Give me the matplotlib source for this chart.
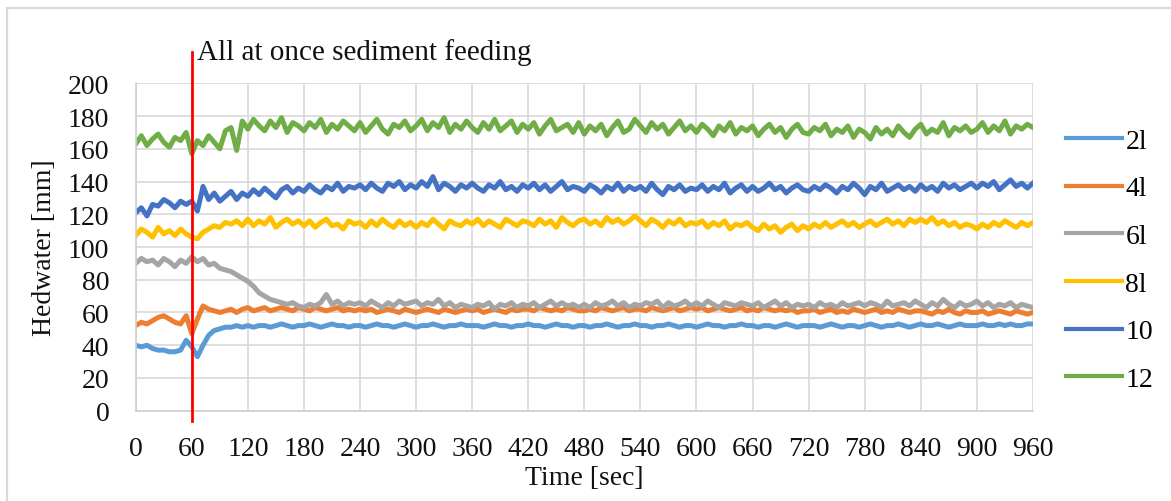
import numpy as np
import matplotlib
matplotlib.use("Agg")
import matplotlib.pyplot as plt
from matplotlib.patches import Rectangle

# Time axis: samples every 6 seconds from 0 to 960 s
time_sec = np.arange(0, 961, 6)

s_2l = [
    40, 39, 40, 38, 37, 37, 36, 36, 37, 43,
    39, 33, 40, 46, 49, 50, 51, 51, 52, 51,
    52, 51, 52, 52, 51, 52, 53, 52, 51, 52,
    52, 53, 52, 51, 52, 53, 52, 52, 51, 52,
    52, 51, 52, 53, 52, 52, 51, 52, 53, 52,
    51, 52, 52, 53, 52, 51, 52, 52, 53, 52,
    52, 52, 51, 52, 53, 52, 52, 51, 52, 52,
    53, 52, 52, 51, 52, 53, 52, 52, 51, 52,
    52, 51, 52, 52, 53, 52, 51, 52, 52, 53,
    52, 52, 51, 52, 52, 53, 52, 51, 52, 52,
    51, 52, 53, 52, 52, 51, 52, 52, 53, 52,
    52, 51, 52, 52, 51, 52, 53, 52, 51, 52,
    52, 52, 51, 52, 53, 52, 51, 52, 52, 51,
    52, 53, 52, 51, 52, 52, 53, 52, 51, 52,
    53, 52, 52, 53, 52, 51, 52, 53, 52, 52,
    52, 53, 52, 52, 53, 52, 53, 52, 52, 53,
    53,
]

s_4l = [
    52, 54, 53, 55, 57, 58, 56, 54, 53, 58,
    47, 56, 64, 62, 61, 60, 61, 62, 60, 62,
    63, 61, 62, 63, 61, 62, 63, 62, 61, 63,
    62, 61, 63, 62, 61, 62, 63, 61, 62, 61,
    62, 61, 62, 60, 61, 62, 61, 60, 62, 61,
    60, 61, 62, 61, 60, 62, 61, 60, 61, 62,
    61, 62, 60, 61, 62, 61, 60, 62, 61, 62,
    62, 61, 63, 62, 61, 62, 61, 63, 62, 61,
    61, 62, 61, 63, 62, 61, 62, 63, 61, 62,
    62, 61, 63, 62, 61, 62, 63, 61, 62, 63,
    62, 63, 61, 62, 63, 62, 61, 62, 63, 61,
    62, 61, 63, 62, 61, 62, 61, 62, 60, 61,
    61, 62, 60, 61, 62, 60, 61, 60, 62, 61,
    60, 61, 62, 60, 61, 60, 62, 61, 60, 61,
    61, 60, 59, 61, 60, 62, 60, 59, 61, 60,
    60, 61, 59, 60, 61, 60, 59, 61, 60, 59,
    60,
]

s_6l = [
    90, 93, 91, 92, 89, 93, 91, 88, 92, 90,
    94, 91, 93, 89, 90, 87, 86, 85, 83, 81,
    79, 76, 72, 70, 68, 67, 66, 65, 66, 64,
    63, 65, 64, 66, 71, 65, 67, 64, 66, 65,
    66, 64, 67, 65, 63, 66, 64, 67, 65, 66,
    67, 64, 66, 65, 68, 64, 66, 63, 65, 64,
    63, 65, 64, 66, 62, 65, 64, 66, 63, 65,
    64, 66, 63, 65, 67, 64, 66, 64, 65, 63,
    65, 63, 66, 64, 65, 67, 64, 66, 63, 65,
    64, 66, 65, 67, 63, 66, 64, 65, 67, 64,
    66, 64, 67, 65, 63, 66, 65, 64, 66, 65,
    64, 66, 63, 65, 67, 64, 66, 63, 65, 64,
    65, 63, 66, 64, 65, 63, 66, 64, 65, 66,
    64, 66, 65, 63, 67, 64, 65, 66, 64, 67,
    65, 63, 66, 64, 68, 65, 63, 66, 64, 65,
    67, 64, 66, 63, 65, 64, 66, 63, 65, 64,
    63,
]

s_8l = [
    107, 111, 109, 106, 112, 108, 110, 107, 111, 108,
    106, 105, 109, 111, 113, 112, 115, 114, 116, 113,
    117, 113, 116, 114, 118, 112, 115, 117, 114, 116,
    113, 116, 112, 115, 117, 113, 114, 111, 116, 114,
    115, 112, 116, 113, 117, 114, 112, 116, 113, 115,
    112, 115, 113, 117, 114, 111, 116, 114, 113, 116,
    114, 117, 113, 116, 114, 112, 117, 115, 113, 116,
    115, 113, 117, 114, 116, 112, 118, 115, 113, 116,
    117, 114, 116, 113, 118, 115, 117, 114, 116, 119,
    116, 113, 117, 115, 112, 116, 114, 117, 113, 115,
    114, 116, 112, 115, 113, 116, 111, 114, 113, 115,
    112, 110, 114, 111, 113, 109, 112, 114, 110, 113,
    111, 114, 112, 115, 112, 114, 116, 113, 115, 112,
    114, 116, 113, 115, 117, 114, 116, 113, 117, 115,
    117, 115, 118, 114, 116, 113, 115, 112, 114, 113,
    111, 114, 112, 115, 113, 116, 114, 112, 115, 113,
    115,
]

s_10 = [
    121, 124, 119, 126, 125, 129, 127, 124, 128, 126,
    128, 122, 137, 129, 133, 128, 131, 134, 129, 133,
    131, 135, 132, 136, 133, 130, 135, 137, 133, 136,
    134, 138, 135, 133, 137, 135, 139, 134, 137, 136,
    138, 135, 139, 136, 134, 139, 137, 140, 135, 138,
    136, 140, 137, 143, 135, 139, 137, 134, 138, 136,
    139, 136, 134, 138, 136, 140, 135, 137, 134, 138,
    136, 139, 135, 138, 134, 137, 140, 135, 137, 136,
    134, 138, 136, 133, 137, 135, 139, 134, 137, 135,
    137, 134, 139, 135, 132, 137, 135, 138, 134, 136,
    135, 138, 134, 137, 135, 139, 133, 136, 138, 134,
    137, 134, 136, 139, 135, 137, 133, 136, 138, 135,
    134, 137, 135, 138, 136, 133, 137, 135, 139, 136,
    132, 137, 135, 139, 134, 136, 138, 135, 137, 134,
    138, 135, 137, 134, 139, 136, 138, 135, 137, 139,
    136, 139, 137, 140, 135, 138, 141, 137, 139, 136,
    139,
]

s_12 = [
    163, 168, 162, 166, 169, 164, 161, 167, 165, 170,
    157, 165, 162, 168, 164, 160, 171, 173, 159, 177,
    172, 178, 174, 171, 177, 173, 179, 170, 176, 174,
    171, 176, 173, 178, 170, 175, 172, 177, 174, 171,
    176, 170, 174, 178, 172, 169, 175, 173, 177, 171,
    174, 178, 171, 176, 173, 179, 170, 175, 172, 177,
    173, 170, 176, 172, 178, 171, 174, 177, 170, 175,
    172, 176, 169, 174, 178, 171, 173, 175, 170, 176,
    169, 174, 171, 175, 168, 173, 177, 170, 172, 178,
    174, 170, 176, 172, 175, 169, 173, 177, 171, 174,
    170, 175, 172, 168, 174, 171, 176, 169, 173, 171,
    174, 168, 172, 175, 170, 173, 167, 172, 175, 170,
    169, 173, 171, 175, 168, 172, 170, 174, 167, 172,
    170, 166, 173, 169, 172, 168, 174, 170, 167, 172,
    175, 169, 172, 170, 176, 168, 173, 171, 174, 170,
    172, 176, 170, 174, 171, 177, 169, 174, 172, 175,
    173,
]

series_labels = ["2l", "4l", "6l", "8l", "10", "12"]
series_values = [s_2l, s_4l, s_6l, s_8l, s_10, s_12]
series_colors = ["#5B9BD5", "#ED7D31", "#A5A5A5", "#FFC000", "#4472C4", "#70AD47"]

x_ticks = list(range(0, 961, 60))
y_ticks = list(range(0, 201, 20))
event_time = 60
event_label = "All at once sediment feeding"

plt.rcParams["font.family"] = ["Liberation Serif", "DejaVu Serif"]

fig = plt.figure(figsize=(11.71, 5.02), dpi=100)
ax = fig.add_axes([0.1159, 0.1799, 0.7662, 0.6521])

for lab, vals, col in zip(series_labels, series_values, series_colors):
    ax.plot(time_sec, vals, color=col, lw=3.6, label=lab, solid_joinstyle="round")

ax.set_xlim(0, 960)
ax.set_ylim(0, 200)
ax.set_xticks(x_ticks)
ax.set_yticks(y_ticks)
ax.tick_params(axis="both", length=0, labelsize=20, colors="#111111")
ax.tick_params(axis="x", pad=18)
ax.tick_params(axis="y", pad=19)
ax.grid(True, color="#d9d9d9", lw=1.2)
ax.set_axisbelow(True)
for sp in ["top", "right"]:
    ax.spines[sp].set_visible(False)
for sp in ["left", "bottom"]:
    ax.spines[sp].set_color("#d0d0d0")
    ax.spines[sp].set_linewidth(1.2)

# Event marker line (extends outside the plot area)
trans = ax.get_xaxis_transform()
ax.plot([event_time, event_time], [-0.031, 1.097], transform=trans,
        color="#FF0000", lw=2.0, clip_on=False, zorder=5)
ax.text(event_time + 5.6, 1.097, event_label, transform=trans,
        fontsize=21, ha="left", va="center", color="#111111")

ax.set_xlabel("Time [sec]", fontsize=20, labelpad=3, color="#111111")
ax.set_ylabel("Hedwater [mm]", fontsize=20, labelpad=8, color="#111111")

leg = ax.legend(loc="center left", bbox_to_anchor=(1.025, 0.46), frameon=False,
                fontsize=20, handlelength=2.0, handletextpad=0.12,
                labelspacing=0.8, borderaxespad=0)
for h in leg.get_lines():
    h.set_linewidth(3)

# Outer chart frame
fig.patches.append(Rectangle((7 / 1171, -0.05), 1.2, (502 - 9) / 502 + 0.05,
                             transform=fig.transFigure, fill=False,
                             edgecolor="#d9d9d9", lw=1.6))

fig.savefig("out.png", dpi=100)
